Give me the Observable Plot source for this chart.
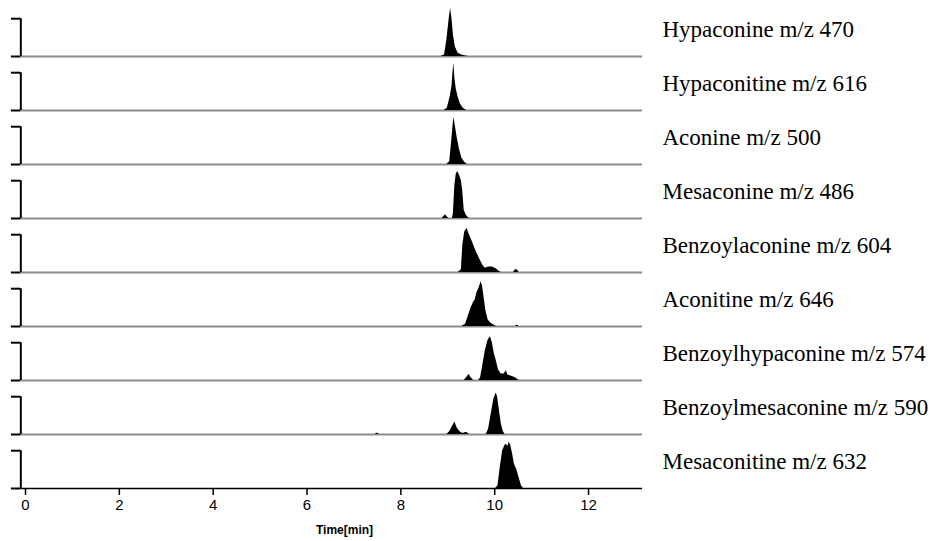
<!DOCTYPE html>
<html>
<head>
<meta charset="utf-8">
<script src="https://cdn.jsdelivr.net/npm/d3@7"></script>
<script src="https://cdn.jsdelivr.net/npm/@observablehq/plot@0.6"></script>
<style>
  html, body { margin: 0; padding: 0; background: #fff; }
</style>
</head>
<body>
<div id="chart"></div>
<script>
// ---- data ----
const compounds = [
  "Hypaconine m/z 470",
  "Hypaconitine m/z 616",
  "Aconine m/z 500",
  "Mesaconine m/z 486",
  "Benzoylaconine m/z 604",
  "Aconitine m/z 646",
  "Benzoylhypaconine m/z 574",
  "Benzoylmesaconine m/z 590",
  "Mesaconitine m/z 632"
];
const timeTicks = [0, 2, 4, 6, 8, 10, 12];
const timeEnd = 13.15;
const bracketHeight = 70;

// [time (min), relative intensity]
const hypaconine = [[8.85,0],[8.93,3],[8.98,30],[9.03,70],[9.06,89],[9.09,70],[9.12,40],[9.16,18],[9.22,6],[9.3,3],[9.38,1],[9.45,0]];
const hypaconitine = [[8.92,0],[8.99,4],[9.05,25],[9.09,45],[9.11,70],[9.13,88],[9.15,60],[9.18,40],[9.22,25],[9.27,12],[9.33,4],[9.4,0]];
const aconine = [[8.98,0],[9.04,5],[9.08,40],[9.11,70],[9.13,87],[9.16,72],[9.2,50],[9.25,28],[9.3,12],[9.36,4],[9.42,0]];
const mesaconine = [[8.88,0],[8.95,7],[9.02,0],[9.1,0],[9.12,10],[9.15,60],[9.18,82],[9.21,87],[9.25,80],[9.29,70],[9.32,50],[9.35,15],[9.4,5],[9.46,0]];
const benzoylaconine = [[9.22,0],[9.29,5],[9.32,50],[9.36,75],[9.41,82],[9.45,72],[9.52,58],[9.6,40],[9.68,25],[9.75,13],[9.8,8],[9.87,10],[9.95,10],[10.03,7],[10.1,2],[10.14,0],[10.4,0],[10.44,5],[10.48,5],[10.52,0]];
const aconitine = [[9.3,0],[9.38,4],[9.44,20],[9.5,35],[9.55,45],[9.58,48],[9.62,62],[9.67,72],[9.71,83],[9.74,75],[9.78,50],[9.81,30],[9.86,12],[9.92,6],[9.98,3],[10.04,0],[10.44,0],[10.48,3],[10.52,0]];
const benzoylhypaconine = [[9.35,0],[9.4,5],[9.45,11],[9.5,5],[9.55,0],[9.66,0],[9.7,5],[9.74,25],[9.8,55],[9.86,75],[9.91,81],[9.95,70],[9.99,50],[10.03,38],[10.08,20],[10.14,12],[10.2,12],[10.25,18],[10.28,10],[10.36,8],[10.44,5],[10.52,0]];
const benzoylmesaconine = [[7.45,0],[7.5,3],[7.55,0],[8.98,0],[9.04,5],[9.1,15],[9.15,23],[9.2,12],[9.26,5],[9.32,2],[9.4,4],[9.46,0],[9.82,0],[9.87,10],[9.93,40],[9.98,65],[10.03,77],[10.06,70],[10.1,45],[10.14,20],[10.18,6],[10.22,0]];
const mesaconitine = [[10.02,0],[10.07,5],[10.12,40],[10.17,70],[10.22,80],[10.25,82],[10.28,78],[10.31,86],[10.34,80],[10.38,65],[10.42,45],[10.47,35],[10.52,20],[10.57,5],[10.61,0]];

const traces = [hypaconine, hypaconitine, aconine, mesaconine, benzoylaconine, aconitine, benzoylhypaconine, benzoylmesaconine, mesaconitine];

// ---- table ----
const rows = traces.flatMap((pts, i) => pts.map(([t, v]) => ({compound: compounds[i], t, v})));
const last = compounds[compounds.length - 1];

const chart = Plot.plot({
  width: 939,
  height: 541,
  marginLeft: 0,
  marginRight: 297,
  marginTop: 1,
  marginBottom: 52,
  style: {background: "#fff", color: "#000"},
  x: {domain: [-0.533, timeEnd], axis: null},
  y: {domain: [0, 100], axis: null},
  fy: {domain: compounds, padding: 0, axis: null},
  marks: [
    // baselines
    Plot.ruleY(compounds, {fy: d => d, y: 0, x1: -0.1, x2: timeEnd,
      stroke: d => d === last ? "#000" : "#8c8c8c", strokeWidth: d => d === last ? 1.6 : 1.8}),
    // scale brackets
    Plot.ruleX(compounds, {fy: d => d, x: -0.1, y1: 0, y2: bracketHeight, stroke: "#000", strokeWidth: 2}),
    Plot.ruleY(compounds, {fy: d => d, y: 0, x1: -0.3, x2: -0.1, stroke: "#000", strokeWidth: 2}),
    Plot.ruleY(compounds, {fy: d => d, y: bracketHeight, x1: -0.3, x2: -0.1, stroke: "#000", strokeWidth: 2}),
    // peaks
    Plot.areaY(rows, {x: "t", y: "v", fy: "compound", z: "compound", fill: "#000"}),
    // x axis
    Plot.axisX({ticks: timeTicks, tickSize: 7, tickPadding: 4, fontSize: 15,
      fontFamily: "Liberation Sans", stroke: "#000", strokeWidth: 1.5, label: null}),
    Plot.text([last], {fy: d => d, x: 6.8, frameAnchor: "bottom", dy: 45, text: () => "Time[min]",
      fontSize: 12, fontWeight: "bold", fontFamily: "Liberation Sans", fill: "#000"}),
    // compound labels
    Plot.axisFy({anchor: "right", tickSize: 0, tickPadding: 20, fontSize: 23,
      fontFamily: "Liberation Serif", fill: "#000", label: null})
  ]
});
document.getElementById("chart").appendChild(chart);
</script>
</body>
</html>
